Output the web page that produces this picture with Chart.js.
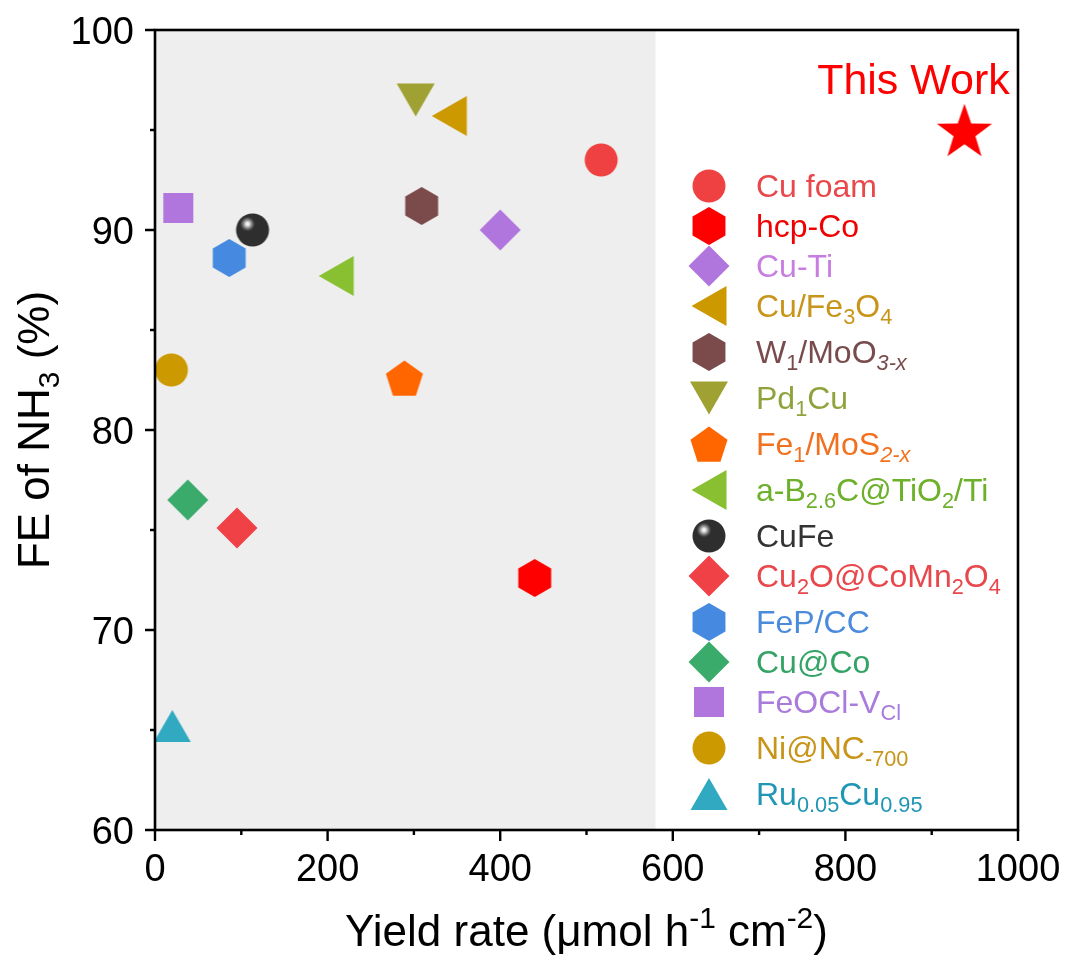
<!DOCTYPE html>
<html>
<head>
<meta charset="utf-8">
<script src="https://cdn.jsdelivr.net/npm/chart.js@4.4.0/dist/chart.umd.min.js"></script>
<style>
  html, body { margin: 0; padding: 0; background: #fff; }
</style>
</head>
<body>
<canvas id="myChart" width="1072" height="971"></canvas>
<script>
// data
const materials = ['Cu foam', 'hcp-Co', 'Cu-Ti', 'Cu/Fe_{3}O_{4}', 'W_{1}/MoO_{*3-x*}', 'Pd_{1}Cu',
  'Fe_{1}/MoS_{*2-x*}', 'a-B_{2.6}C@TiO_{2}/Ti', 'CuFe', 'Cu_{2}O@CoMn_{2}O_{4}', 'FeP/CC',
  'Cu@Co', 'FeOCl-V_{Cl}', 'Ni@NC_{-700}', 'Ru_{0.05}Cu_{0.95}'];
const yieldRate   = [517, 440, 400, 341, 309, 302, 289, 210, 113, 95, 86, 38, 27, 19, 20];
const faradaicEff = [93.5, 72.6, 90.0, 95.7, 91.2, 96.5, 82.6, 87.7, 90.0, 75.1, 88.6, 76.5, 91.1, 83.0, 65.2];
const thisWorkYield = [938];
const thisWorkFE = [95.0];
const shadeUpTo = 580;
const xTicks = [0, 200, 400, 600, 800, 1000];
const yTicks = [60, 70, 80, 90, 100];

// styles
const FONT = 'Arial, "Liberation Sans", sans-serif';
const shapes = ['circle', 'hexagon', 'diamond', 'triLeft', 'hexagon', 'triDown', 'pentagon', 'triLeft',
  'sphere', 'diamond', 'hexagon', 'diamond', 'square', 'circle', 'triUp'];
const markerColors = ['#EF4141', '#FF0000', '#B176DD', '#CC9900', '#7B4B4B', '#A0A133', '#FF6600', '#88C031',
  '#2E2E2E', '#EF4146', '#4589E0', '#3AAB6B', '#B176DD', '#CC9900', '#31AAC1'];
const textColors = ['#E8474C', '#F00000', '#C77EE0', '#C8951A', '#784C4C', '#8FA33D', '#F2711E', '#6DB02A',
  '#333333', '#E8474C', '#4A8BDC', '#33A366', '#A97CDC', '#C8951A', '#1E96B4'];

function poly(g, cx, cy, r, n, startDeg) {
  for (let i = 0; i < n; i++) {
    const a = (startDeg + i * 360 / n) * Math.PI / 180;
    const px = cx + r * Math.cos(a), py = cy + r * Math.sin(a);
    if (i === 0) g.moveTo(px, py); else g.lineTo(px, py);
  }
  g.closePath();
}

function makeMarker(shape, color) {
  const c = document.createElement('canvas');
  const s = shape === 'star' ? 64 : 44;
  c.width = s; c.height = s;
  const g = c.getContext('2d');
  const cx = s / 2, cy = s / 2;
  g.fillStyle = color;
  g.beginPath();
  switch (shape) {
    case 'circle': g.arc(cx, cy, 16.5, 0, Math.PI * 2); break;
    case 'square': g.rect(cx - 15, cy - 15, 30, 30); break;
    case 'diamond': poly(g, cx, cy, 20.5, 4, -90); break;
    case 'hexagon': poly(g, cx, cy, 19, 6, -90); break;
    case 'pentagon': poly(g, cx, cy + 1.9, 19.5, 5, -90); break;
    case 'triUp':
      g.moveTo(cx, cy - 16); g.lineTo(cx + 18.5, cy + 16); g.lineTo(cx - 18.5, cy + 16); g.closePath(); break;
    case 'triDown':
      g.moveTo(cx - 19, cy - 16.5); g.lineTo(cx + 19, cy - 16.5); g.lineTo(cx, cy + 16.5); g.closePath(); break;
    case 'triLeft':
      g.moveTo(cx - 17.5, cy); g.lineTo(cx + 17.5, cy - 20); g.lineTo(cx + 17.5, cy + 20); g.closePath(); break;
    case 'star':
      for (let i = 0; i < 10; i++) {
        const r = i % 2 ? 11.5 : 29;
        const a = (-90 + i * 36) * Math.PI / 180;
        const px = cx + r * Math.cos(a), py = cy + 2.8 + r * Math.sin(a);
        if (i === 0) g.moveTo(px, py); else g.lineTo(px, py);
      }
      g.closePath(); break;
    case 'sphere':
      g.arc(cx, cy, 16.5, 0, Math.PI * 2);
      g.fill();
      const hl = g.createRadialGradient(cx - 5, cy - 6, 0, cx - 5, cy - 6, 8);
      hl.addColorStop(0, '#ffffff');
      hl.addColorStop(0.25, '#dcdcdc');
      hl.addColorStop(0.45, '#9a9a9a');
      hl.addColorStop(0.7, '#5a5a5a');
      hl.addColorStop(1, 'rgba(46,46,46,0)');
      g.fillStyle = hl;
      g.beginPath();
      g.arc(cx - 5, cy - 6, 8, 0, Math.PI * 2);
      break;
  }
  g.fill();
  return c;
}

// "_{..}" subscript, "^{..}" superscript, "*..*" italic
function parse(str) {
  const segs = [];
  let mode = null, it = false, buf = '';
  function push() { if (buf) segs.push({ t: buf, mode: mode, it: it }); buf = ''; }
  for (let i = 0; i < str.length; i++) {
    const ch = str[i];
    if ((ch === '_' || ch === '^') && str[i + 1] === '{') { push(); mode = ch === '_' ? 'sub' : 'sup'; i++; }
    else if (ch === '}') { push(); mode = null; }
    else if (ch === '*') { push(); it = !it; }
    else buf += ch;
  }
  push();
  return segs;
}

function drawRich(ctx, str, x, y, size, color, align) {
  const segs = parse(str);
  const fontFor = s => (s.it ? 'italic ' : '') + (s.mode ? size * 0.68 : size) + 'px ' + FONT;
  let total = 0;
  segs.forEach(s => { ctx.font = fontFor(s); s.w = ctx.measureText(s.t).width; total += s.w; });
  let cx = align === 'center' ? x - total / 2 : align === 'right' ? x - total : x;
  ctx.fillStyle = color;
  ctx.textAlign = 'left';
  ctx.textBaseline = 'alphabetic';
  segs.forEach(s => {
    ctx.font = fontFor(s);
    const dy = s.mode === 'sub' ? size * 0.22 : s.mode === 'sup' ? -size * 0.40 : 0;
    ctx.fillText(s.t, cx, y + dy);
    cx += s.w;
  });
}

const markers = shapes.map((s, i) => makeMarker(s, markerColors[i]));
const starMarker = makeMarker('star', '#FF0000');

const datasets = materials.map((m, i) => ({
  label: m,
  data: [{ x: yieldRate[i], y: faradaicEff[i] }],
  pointStyle: markers[i],
  pointRadius: 16,
  pointHoverRadius: 16
}));
datasets.push({
  label: 'This Work',
  data: thisWorkYield.map((v, i) => ({ x: v, y: thisWorkFE[i] })),
  pointStyle: starMarker,
  pointRadius: 20,
  pointHoverRadius: 20
});

//background shade
const shadePlugin = {
  id: 'shade',
  beforeDatasetsDraw(chart) {
    const { ctx, scales: { x, y } } = chart;
    const x0 = x.getPixelForValue(x.min), x1 = x.getPixelForValue(shadeUpTo);
    const y0 = y.getPixelForValue(y.max), y1 = y.getPixelForValue(y.min);
    ctx.save();
    ctx.fillStyle = '#EEEEEE';
    ctx.fillRect(x0, y0, x1 - x0, y1 - y0);
    ctx.restore();
  }
};

//frame, ticks, tick labels, titles, legend
const decorPlugin = {
  id: 'decor',
  afterDraw(chart) {
    const { ctx, chartArea: a, scales: { x, y } } = chart;
    ctx.save();
    ctx.strokeStyle = '#000';
    ctx.lineWidth = 2.6;
    ctx.strokeRect(a.left, a.top, a.right - a.left, a.bottom - a.top);

    ctx.lineWidth = 2.4;
    ctx.beginPath();
    for (let v = y.min; v <= y.max; v += 5) {
      const py = y.getPixelForValue(v);
      const len = v % 10 === 0 ? 10 : 5;
      ctx.moveTo(a.left, py); ctx.lineTo(a.left - len, py);
    }
    for (let v = x.min; v <= x.max; v += 100) {
      const px = x.getPixelForValue(v);
      const len = v % 200 === 0 ? 11 : 5;
      ctx.moveTo(px, a.bottom); ctx.lineTo(px, a.bottom + len);
    }
    ctx.stroke();

    // tick labels
    ctx.fillStyle = '#000';
    ctx.font = '38px ' + FONT;
    ctx.textBaseline = 'alphabetic';
    ctx.textAlign = 'right';
    yTicks.forEach(v => ctx.fillText(String(v), a.left - 21, y.getPixelForValue(v) + 13.5));
    ctx.textAlign = 'center';
    xTicks.forEach(v => ctx.fillText(String(v), x.getPixelForValue(v), a.bottom + 51));

    // axis titles
    drawRich(ctx, 'Yield rate (μmol h^{-1} cm^{-2})', (a.left + a.right) / 2, 946, 44, '#000', 'center');
    ctx.save();
    ctx.translate(49, (a.top + a.bottom) / 2);
    ctx.rotate(-Math.PI / 2);
    drawRich(ctx, 'FE of NH_{3} (%)', 0, 0, 44, '#000', 'center');
    ctx.restore();

    // This Work label above the star
    const sx = x.getPixelForValue(thisWorkYield[0]);
    const sy = y.getPixelForValue(thisWorkFE[0]);
    drawRich(ctx, 'This Work', sx - 51, sy - 36, 43, '#FF0000', 'center');

    // legend
    let ly = 186;
    materials.forEach((m, i) => {
      const mk = markers[i];
      ctx.drawImage(mk, 709 - mk.width / 2, ly - mk.height / 2);
      drawRich(ctx, m, 756, ly + 11, 32, textColors[i], 'left');
      ly += m.indexOf('_{') >= 0 ? 46 : 40;
    });
    ctx.restore();
  }
};

const ctx = document.getElementById('myChart').getContext('2d');

const chart = new Chart(ctx, {
  type: 'scatter',
  data: { datasets: datasets },
  options: {
    responsive: false,
    animation: false,
    events: [],
    layout: { padding: { left: 0, right: 54, top: 30, bottom: 0 } },
    plugins: { legend: { display: false }, tooltip: { enabled: false } },
    scales: {
      x: {
        type: 'linear', min: xTicks[0], max: xTicks[xTicks.length - 1],
        grid: { display: false, drawTicks: false },
        border: { display: false },
        ticks: { display: false },
        afterFit: s => { s.height = 141; }
      },
      y: {
        type: 'linear', min: yTicks[0], max: yTicks[yTicks.length - 1],
        grid: { display: false, drawTicks: false },
        border: { display: false },
        ticks: { display: false },
        afterFit: s => { s.width = 155; }
      }
    }
  },
  plugins: [shadePlugin, decorPlugin]
});
</script>
</body>
</html>
